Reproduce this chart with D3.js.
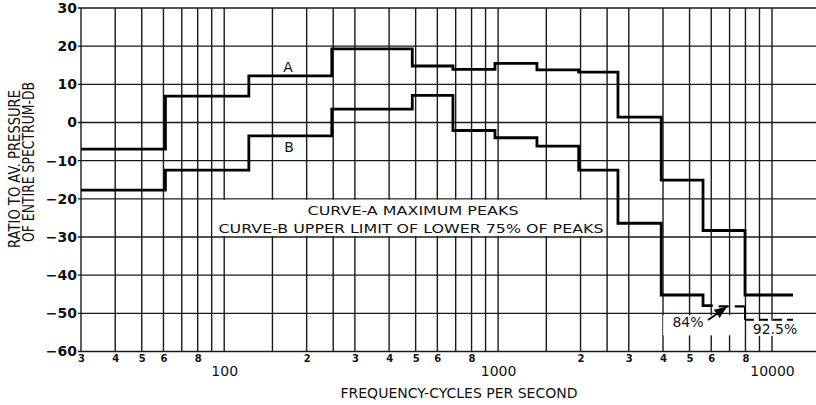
<!DOCTYPE html>
<html>
<head>
<meta charset="utf-8">
<script src="https://cdnjs.cloudflare.com/ajax/libs/d3/7.8.5/d3.min.js"></script>
<style>
body { margin:0; background:#fff; }
text { font-family: "DejaVu Sans", sans-serif; fill:#111; }
</style>
</head>
<body>
<div id="chart"></div>
<script>
// band edges (cycles per second) and levels (db)
var bandEdgesA = [30, 61, 123, 247, 486, 684, 974, 1386, 1969, 2739, 3940, 5600, 7970, 11930];
var curveA = [-7.0, 6.9, 12.2, 19.3, 14.8, 13.9, 15.5, 13.8, 13.2, 1.4, -15.1, -28.3, -45.2];
var bandEdgesB = [30, 61, 123, 247, 486, 684, 974, 1386, 1969, 2739, 3940, 5600, 6075];
var curveB = [-17.7, -12.5, -3.5, 3.5, 7.1, -2.1, -4.0, -6.2, -12.5, -26.4, -45.2, -48.0];

// dashed extensions of curve B (84% and 92.5%)
var edges84 = [6075, 7970];
var level84 = -48.2;
var edges925 = [7970, 11930];
var level925 = -51.7;

var yTicks = [30, 20, 10, 0, -10, -20, -30, -40, -50, -60];
var gridMantissas = [1, 1.5, 2, 2.5, 3, 4, 5, 6, 7, 8, 9];
var gridDecades = [10, 100, 1000];
var minorLabelFreqs = [30, 40, 50, 60, 80, 200, 300, 400, 500, 600, 800, 2000, 3000, 4000, 5000, 6000, 8000];
var majorLabelFreqs = [100, 1000, 10000];

var width = 816, height = 405;

var svg = d3.select("#chart")
            .append("svg")
            .attr("width", width)
            .attr("height", height);

var x = d3.scaleLog().domain([30, 10000]).range([81, 772]);
var y = d3.scaleLinear().domain([-60, 30]).range([351.5, 8]);

var gridFreqs = [];
gridDecades.forEach(function (d) {
  gridMantissas.forEach(function (m) {
    var f = m * d;
    if (f >= 30 && f <= 10000) gridFreqs.push(f);
  });
});
gridFreqs.push(10000);

// grid
svg.selectAll(".vgrid")
   .data(gridFreqs)
   .enter().append("line")
   .attr("class", "vgrid")
   .attr("x1", function (d) { return x(d); })
   .attr("x2", function (d) { return x(d); })
   .attr("y1", y(30))
   .attr("y2", y(-60))
   .attr("stroke", "#1a1a1a")
   .attr("stroke-width", 1.4);

svg.selectAll(".hgrid")
   .data(yTicks)
   .enter().append("line")
   .attr("class", "hgrid")
   .attr("x1", x(30) - 3)
   .attr("x2", width)
   .attr("y1", function (d) { return y(d); })
   .attr("y2", function (d) { return y(d); })
   .attr("stroke", "#1a1a1a")
   .attr("stroke-width", function (d) { return (d === 30 || d === -60) ? 1.7 : 1.3; });

// white boxes behind the notes
svg.append("rect")
   .attr("x", x(90) + 1).attr("y", y(-20) + 1)
   .attr("width", x(2500) - x(90) - 2).attr("height", y(-30) - y(-20) - 2)
   .attr("fill", "#fff");
svg.append("rect")
   .attr("x", x(3940) + 2).attr("y", y(-50) + 2)
   .attr("width", x(7970) - x(3940) - 4).attr("height", 20)
   .attr("fill", "#fff");
svg.append("rect")
   .attr("x", x(7970) + 2).attr("y", y(level925) + 1)
   .attr("width", 60).attr("height", 15)
   .attr("fill", "#fff");

// axes labels
var yAxis = d3.axisLeft(y).tickValues(yTicks).tickSize(0).tickPadding(4);
svg.append("g")
   .attr("transform", "translate(" + x(30) + ",0)")
   .call(yAxis)
   .call(function (g) { g.select(".domain").remove(); })
   .selectAll("text")
   .style("font-size", "14px")
   .style("font-weight", "bold")
   .style("font-family", "DejaVu Sans")
   .attr("fill", "#111");

var xMinor = d3.axisBottom(x).tickValues(minorLabelFreqs).tickSize(0).tickPadding(3)
   .tickFormat(function (d) { return String(Math.round(d / Math.pow(10, Math.floor(Math.log10(d) + 1e-9)))); });
svg.append("g")
   .attr("transform", "translate(0," + y(-60) + ")")
   .call(xMinor)
   .call(function (g) { g.select(".domain").remove(); })
   .selectAll("text")
   .style("font-size", "10px")
   .style("font-weight", "bold")
   .style("font-family", "DejaVu Sans")
   .attr("fill", "#111");

var xMajor = d3.axisBottom(x).tickValues(majorLabelFreqs).tickSize(0).tickPadding(15)
   .tickFormat(d3.format("d"));
svg.append("g")
   .attr("transform", "translate(0," + y(-60) + ")")
   .call(xMajor)
   .call(function (g) { g.select(".domain").remove(); })
   .selectAll("text")
   .style("font-size", "14px")
   .style("font-family", "DejaVu Sans")
   .attr("fill", "#111");

// curves
var step = d3.line()
   .x(function (d) { return x(d[0]); })
   .y(function (d) { return y(d[1]); })
   .curve(d3.curveStepAfter);

function stepPoints(edges, values) {
  var pts = values.map(function (v, i) { return [edges[i], v]; });
  pts.push([edges[edges.length - 1], values[values.length - 1]]);
  return pts;
}

svg.append("path")
   .attr("d", step(stepPoints(bandEdgesA, curveA)))
   .attr("fill", "none").attr("stroke", "#000").attr("stroke-width", 2.8);

svg.append("path")
   .attr("d", step(stepPoints(bandEdgesB, curveB)))
   .attr("fill", "none").attr("stroke", "#000").attr("stroke-width", 2.8);

svg.append("line")
   .attr("x1", x(edges84[0])).attr("x2", x(edges84[1]))
   .attr("y1", y(level84)).attr("y2", y(level84))
   .attr("stroke", "#000").attr("stroke-width", 2.2)
   .attr("stroke-dasharray", "10,6").attr("stroke-dashoffset", 10);

svg.append("path")
   .attr("d", "M" + x(edges925[0]) + "," + y(level84) + "V" + y(level925))
   .attr("fill", "none").attr("stroke", "#000").attr("stroke-width", 2);
svg.append("line")
   .attr("x1", x(edges925[0])).attr("x2", x(edges925[1]))
   .attr("y1", y(level925)).attr("y2", y(level925))
   .attr("stroke", "#000").attr("stroke-width", 2)
   .attr("stroke-dasharray", "9,5");

// arrow for 84%
svg.append("defs").append("marker")
   .attr("id", "arr")
   .attr("viewBox", "0 0 10 10")
   .attr("refX", 9).attr("refY", 5)
   .attr("markerWidth", 7).attr("markerHeight", 7)
   .attr("orient", "auto")
   .append("path").attr("d", "M0,1L10,5L0,9Z").attr("fill", "#000");

svg.append("line")
   .attr("x1", 708).attr("y1", 320)
   .attr("x2", 726).attr("y2", y(level84) + 1)
   .attr("stroke", "#000").attr("stroke-width", 1.8)
   .attr("marker-end", "url(#arr)");

svg.append("text").attr("x", 688).attr("y", 327)
   .attr("text-anchor", "middle").style("font-size", "14px").text("84%");
svg.append("text").attr("x", 775).attr("y", 334)
   .attr("text-anchor", "middle").style("font-size", "14px").text("92.5%");

// curve names
svg.append("text").attr("x", 288).attr("y", 72)
   .attr("text-anchor", "middle").style("font-size", "14px").text("A");
svg.append("text").attr("x", 289).attr("y", 152)
   .attr("text-anchor", "middle").style("font-size", "14px").text("B");

// notes
svg.append("text").attr("x", 413).attr("y", 215)
   .attr("text-anchor", "middle").style("font-size", "13px")
   .attr("textLength", 211).attr("lengthAdjust", "spacingAndGlyphs")
   .text("CURVE-A MAXIMUM PEAKS");
svg.append("text").attr("x", 411).attr("y", 233)
   .attr("text-anchor", "middle").style("font-size", "13px")
   .attr("textLength", 385).attr("lengthAdjust", "spacingAndGlyphs")
   .text("CURVE-B UPPER LIMIT OF LOWER 75% OF PEAKS");

// axis titles
svg.append("text").attr("x", 459).attr("y", 398)
   .attr("text-anchor", "middle").style("font-size", "14px")
   .text("FREQUENCY-CYCLES PER SECOND");

svg.append("text")
   .attr("transform", "translate(20,169) rotate(-90)")
   .attr("text-anchor", "middle").style("font-size", "15px")
   .attr("textLength", 158).attr("lengthAdjust", "spacingAndGlyphs")
   .text("RATIO TO AV. PRESSURE");
svg.append("text")
   .attr("transform", "translate(34,162) rotate(-90)")
   .attr("text-anchor", "middle").style("font-size", "15px")
   .attr("textLength", 160).attr("lengthAdjust", "spacingAndGlyphs")
   .text("OF ENTIRE SPECTRUM-DB");
</script>
</body>
</html>
